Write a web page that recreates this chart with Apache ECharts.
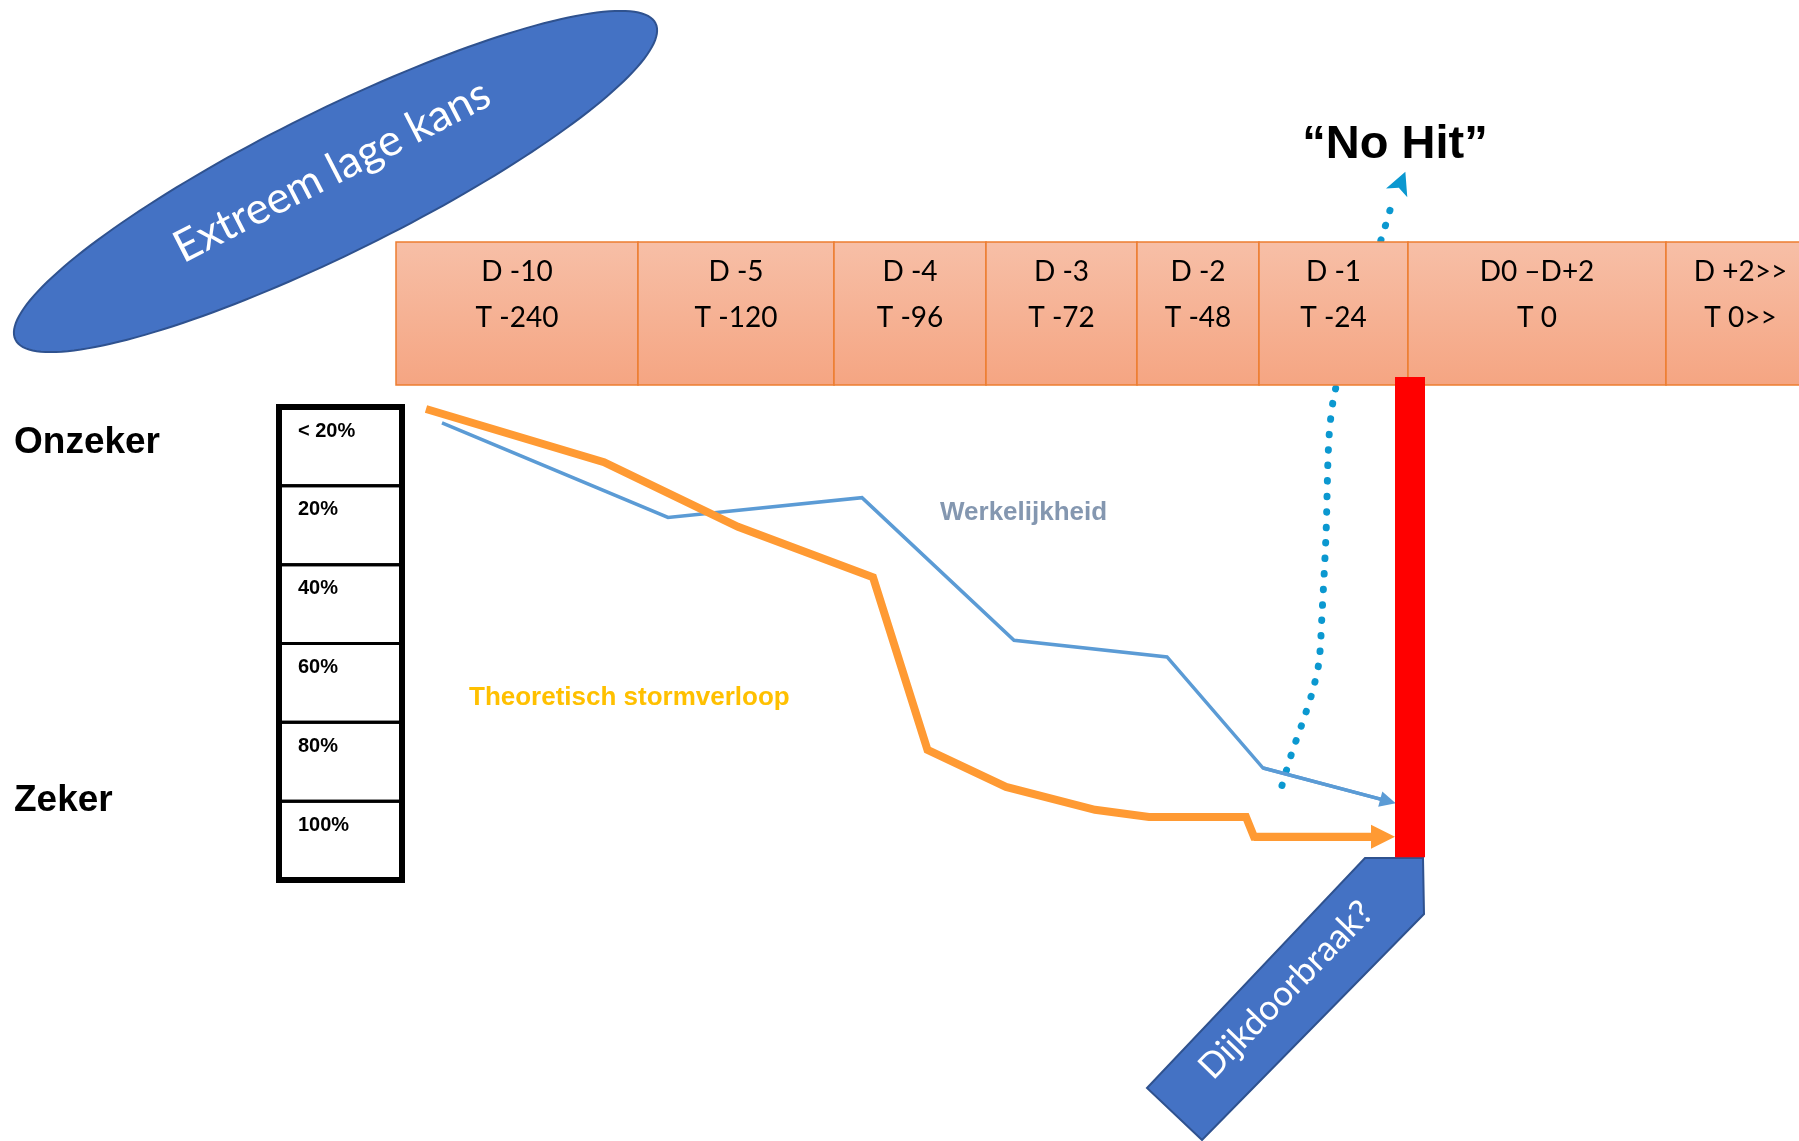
<!DOCTYPE html>
<html>
<head>
<meta charset="utf-8">
<script src="https://cdn.jsdelivr.net/npm/echarts@6/dist/echarts.min.js"></script>
<style>
html,body{margin:0;padding:0;background:#fff;}
#chart{width:1799px;height:1141px;}
</style>
</head>
<body>
<div id="chart"></div>
<script>
// ---- data ----
const dayLabels  = ['D -10', 'D -5', 'D -4', 'D -3', 'D -2', 'D -1', 'D0 \u2013D+2', 'D +2>>'];
const hourLabels = ['T -240', 'T -120', 'T -96', 'T -72', 'T -48', 'T -24', 'T 0', 'T 0>>'];
const colStarts  = [0, 242, 438, 590, 741, 863, 1012, 1270];
const colEnds    = [242, 438, 590, 741, 863, 1012, 1270, 1419];
const certaintyLabels = ['< 20%', '20%', '40%', '60%', '80%', '100%'];
// x in timeline units, y in certainty-ladder levels (0 = top, 6 = bottom)
const theoretisch = [[30, 0.025], [208, 0.70], [342, 1.52], [477, 2.16], [531.5, 4.35], [610, 4.82], [699, 5.11], [753, 5.20], [850, 5.20], [858, 5.45], [987, 5.45]];
const werkelijkheid = [[46, 0.20], [272, 1.40], [466, 1.15], [618, 2.96], [771, 3.17], [867, 4.58], [992, 5.00]];
const noHitPath = [[886, 4.80], [895.5, 4.40], [906, 4.02], [916, 3.63], [923, 3.23], [926, 2.63], [930, 1.62], [933, 0.39], [939, -0.20], [962, -1.23], [986, -2.16], [995, -2.54]];
const noHitArrow = [[995, -2.54], [1005, -2.85]];
const breakBar = [[999, 1029, -0.38, 5.71]];

// ---- layout constants ----
const headerTop = -2.093, headerBottom = -0.279;
const ladderLeft = -117, ladderRight = 6, ladderTextX = -98;

const chart = echarts.init(document.getElementById('chart'));

// ellipse outline
const ell = [];
(function () {
  const cx = 335.5, cy = 181.5, a = 357, b = 71.3, th = 26.3 * Math.PI / 180;
  for (let i = 0; i < 180; i++) {
    const t = i / 180 * Math.PI * 2;
    const ex = a * Math.cos(t), ey = b * Math.sin(t);
    ell.push([cx + ex * Math.cos(th) - ey * Math.sin(th), cy - (ex * Math.sin(th) + ey * Math.cos(th))]);
  }
})();

function lastSeg(pts) { return [pts[pts.length - 2], pts[pts.length - 1]]; }

const option = {
  animation: false,
  grid: { left: 396, right: 0, top: 407, bottom: 261, containLabel: false },
  xAxis: { type: 'value', min: 0, max: 1403, show: false, splitLine: { show: false } },
  yAxis: { type: 'value', min: 0, max: 6, inverse: true, show: false, splitLine: { show: false } },
  graphic: [
    { type: 'polygon', shape: { points: ell }, style: { fill: '#4472C4', stroke: '#2F528F', lineWidth: 2 }, z: 1 },
    { type: 'text', x: 332, y: 171, rotation: 27.2 * Math.PI / 180, z: 2,
      style: { text: 'Extreem lage kans', font: '44px Lato', fill: '#ffffff', textAlign: 'center', textVerticalAlign: 'middle' } },
    { type: 'polygon', shape: { points: [[1147, 1088], [1365, 858], [1423, 858], [1424, 914], [1202, 1140]] },
      style: { fill: '#4472C4', stroke: '#2F528F', lineWidth: 2 }, z: 1 },
    { type: 'text', x: 1286, y: 990, rotation: 45.7 * Math.PI / 180, z: 2,
      style: { text: 'Dijkdoorbraak?', font: '35px Lato', fill: '#ffffff', textAlign: 'center', textVerticalAlign: 'middle' } },
    { type: 'text', x: 1395, y: 145, z: 2,
      style: { text: '\u201CNo Hit\u201D', font: 'bold 47px "Liberation Sans"', fill: '#000000', textAlign: 'center', textVerticalAlign: 'middle' } },
    { type: 'text', x: 14, y: 443, z: 2,
      style: { text: 'Onzeker', font: 'bold 37px "Liberation Sans"', fill: '#000000', textAlign: 'left', textVerticalAlign: 'middle' } },
    { type: 'text', x: 14, y: 801, z: 2,
      style: { text: 'Zeker', font: 'bold 37px "Liberation Sans"', fill: '#000000', textAlign: 'left', textVerticalAlign: 'middle' } },
    { type: 'text', x: 469, y: 698, z: 2,
      style: { text: 'Theoretisch stormverloop', font: 'bold 26px "Liberation Sans"', fill: '#FFC000', textAlign: 'left', textVerticalAlign: 'middle' } },
    { type: 'text', x: 940, y: 513, z: 2,
      style: { text: 'Werkelijkheid', font: 'bold 26px "Liberation Sans"', fill: '#8497B0', textAlign: 'left', textVerticalAlign: 'middle' } }
  ],
  series: [
    {
      name: 'noHit', type: 'line', data: noHitPath, smooth: 0.3, showSymbol: false, clip: false, z: 1,
      lineStyle: { color: '#0B98D0', width: 7, type: [0.5, 15], cap: 'round' }
    },
    {
      name: 'noHitArrow', type: 'lines', coordinateSystem: 'cartesian2d', clip: false, z: 1,
      symbol: ['none', 'path://M5,0 L10,10 L5,7.5 L0,10 Z'], symbolSize: 23,
      lineStyle: { color: '#0B98D0', width: 0, opacity: 1 },
      data: [{ coords: noHitArrow }]
    },
    {
      name: 'header', type: 'custom', clip: false, z: 3,
      data: colStarts.map((s, i) => [s, colEnds[i], i]),
      renderItem: function (params, api) {
        const i = api.value(2);
        const p0 = api.coord([api.value(0), headerTop]);
        const p1 = api.coord([api.value(1), headerBottom]);
        const w = p1[0] - p0[0], h = p1[1] - p0[1];
        return { type: 'group', children: [
          { type: 'rect', shape: { x: p0[0], y: p0[1], width: w, height: h },
            style: { fill: new echarts.graphic.LinearGradient(0, 0, 0, 1, [{ offset: 0, color: '#F7BFA7' }, { offset: 1, color: '#F5A582' }]), stroke: '#ED7D31', lineWidth: 1.5 } },
          { type: 'text', style: { text: dayLabels[i], x: p0[0] + w / 2, y: p0[1] + 30, font: '28px Lato', fill: '#000', textAlign: 'center', textVerticalAlign: 'middle' } },
          { type: 'text', style: { text: hourLabels[i], x: p0[0] + w / 2, y: p0[1] + 76, font: '28px Lato', fill: '#000', textAlign: 'center', textVerticalAlign: 'middle' } }
        ] };
      }
    },
    {
      name: 'ladder', type: 'custom', clip: false, z: 2,
      data: certaintyLabels.map((l, i) => [i, i + 1, i]),
      renderItem: function (params, api) {
        const i = api.value(2);
        const tl = api.coord([ladderLeft, api.value(0)]);
        const br = api.coord([ladderRight, api.value(1)]);
        const tx = api.coord([ladderTextX, api.value(0)]);
        const last = certaintyLabels.length - 1;
        return { type: 'group', children: [
          { type: 'line', shape: { x1: tl[0], y1: tl[1], x2: br[0], y2: tl[1] }, style: { stroke: '#000', lineWidth: i === 0 ? 6 : 3 } },
          { type: 'line', shape: { x1: tl[0], y1: br[1], x2: br[0], y2: br[1] }, style: { stroke: '#000', lineWidth: i === last ? 6 : 3 } },
          { type: 'line', shape: { x1: tl[0], y1: tl[1] - 3, x2: tl[0], y2: br[1] + 3 }, style: { stroke: '#000', lineWidth: 6 } },
          { type: 'line', shape: { x1: br[0], y1: tl[1] - 3, x2: br[0], y2: br[1] + 3 }, style: { stroke: '#000', lineWidth: 6 } },
          { type: 'text', style: { text: certaintyLabels[i], x: tx[0], y: tx[1] + 24, font: 'bold 20px "Liberation Sans"', fill: '#000', textAlign: 'left', textVerticalAlign: 'middle' } }
        ] };
      }
    },
    {
      name: 'Werkelijkheid', type: 'lines', coordinateSystem: 'cartesian2d', polyline: true, clip: false, z: 2,
      lineStyle: { color: '#5B9BD5', width: 3.5, opacity: 1, join: 'miter' },
      data: [{ coords: werkelijkheid }]
    },
    {
      name: 'WerkelijkheidArrow', type: 'lines', coordinateSystem: 'cartesian2d', clip: false, z: 2,
      symbol: ['none', 'triangle'], symbolSize: 16,
      lineStyle: { color: '#5B9BD5', width: 3.5, opacity: 1 },
      data: [{ coords: lastSeg(werkelijkheid) }]
    },
    {
      name: 'Theoretisch stormverloop', type: 'lines', coordinateSystem: 'cartesian2d', polyline: true, clip: false, z: 2,
      lineStyle: { color: '#FF9A33', width: 8, opacity: 1, join: 'miter' },
      data: [{ coords: theoretisch }]
    },
    {
      name: 'TheoretischArrow', type: 'lines', coordinateSystem: 'cartesian2d', clip: false, z: 2,
      symbol: ['none', 'triangle'], symbolSize: 24,
      lineStyle: { color: '#FF9A33', width: 8, opacity: 1 },
      data: [{ coords: lastSeg(theoretisch) }]
    },
    {
      name: 'breakBar', type: 'custom', clip: false, z: 4,
      data: breakBar,
      renderItem: function (params, api) {
        const p0 = api.coord([api.value(0), api.value(2)]);
        const p1 = api.coord([api.value(1), api.value(3)]);
        return { type: 'rect', shape: { x: p0[0], y: p0[1], width: p1[0] - p0[0], height: p1[1] - p0[1] }, style: { fill: '#FF0000' } };
      }
    }
  ]
};
chart.setOption(option);
</script>
</body>
</html>
